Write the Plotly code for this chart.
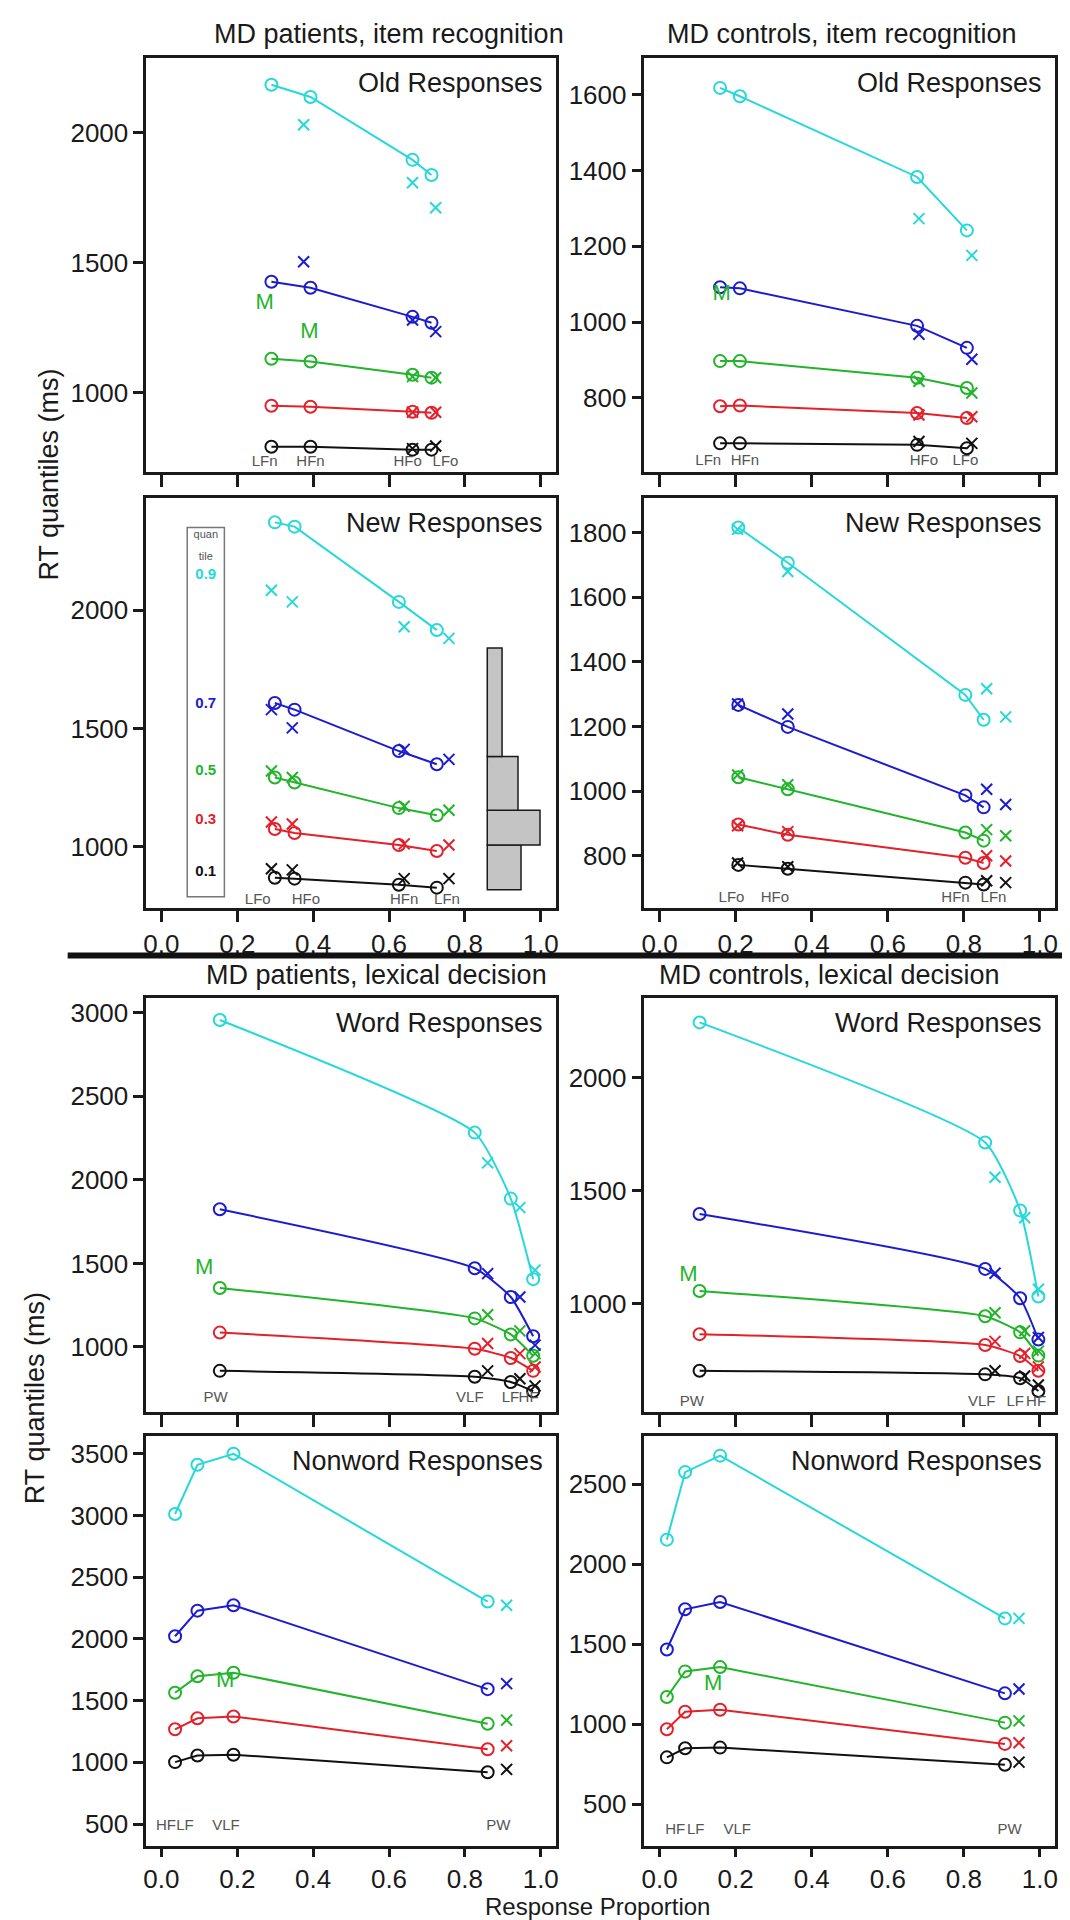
import plotly.graph_objects as go

W, H = 1070, 1920
FONT = "Liberation Sans, Arial, sans-serif"

# quantile colours, rows of every rt table are quantiles .1 .3 .5 .7 .9
COLORS = ["#111111", "#e3212b", "#22b42a", "#1c1ccf", "#27d8d8"]
QUANT = ["0.1", "0.3", "0.5", "0.7", "0.9"]

# ---------------- item recognition, MD patients ----------------
old_pat_px = [0.290, 0.393, 0.662, 0.712]
old_pat_rt = [[792, 792, 781, 781],
              [950, 946, 927, 923],
              [1131, 1120, 1069, 1058],
              [1427, 1404, 1292, 1269],
              [2185, 2138, 1896, 1838]]
old_pat_xx = [0.375, 0.662, 0.723]
old_pat_xrt = [[None, 785, 795],
               [None, 925, 925],
               [None, 1062, 1058],
               [1504, 1280, 1235],
               [2031, 1808, 1712]]
old_pat_m = ([0.272, 0.390], [1345, 1230])
old_pat_lab = ["LFn", "HFn", "HFo", "LFo"]
old_pat_labx = [0.272, 0.393, 0.649, 0.749]

new_pat_px = [0.299, 0.351, 0.626, 0.726]
new_pat_rt = [[870, 866, 840, 828],
              [1076, 1059, 1008, 983],
              [1293, 1272, 1164, 1134],
              [1608, 1580, 1405, 1349],
              [2371, 2353, 2035, 1916]]
new_pat_xx = [0.290, 0.345, 0.640, 0.758]
new_pat_xrt = [[908, 903, 866, 866],
               [1105, 1097, 1013, 1008],
               [1321, 1293, 1172, 1155],
               [1580, 1503, 1412, 1370],
               [2084, 2035, 1930, 1881]]
new_pat_lab = ["LFo", "HFo", "HFn", "LFn"]
new_pat_labx = [0.254, 0.381, 0.640, 0.753]

# RT histogram drawn in the patients' new-response panel
hist_lo = [819, 1008, 1155, 1382]
hist_hi = [1008, 1155, 1382, 1840]
hist_len = [0.089, 0.139, 0.081, 0.039]

# ---------------- item recognition, MD controls ----------------
old_con_px = [0.159, 0.211, 0.677, 0.808]
old_con_rt = [[680, 680, 676, 667],
              [778, 780, 760, 747],
              [897, 897, 853, 826],
              [1092, 1089, 990, 932],
              [1618, 1596, 1383, 1242]]
old_con_xx = [0.682, 0.821]
old_con_xrt = [[685, 680],
               [755, 750],
               [844, 813],
               [968, 902],
               [1273, 1176]]
old_con_m = ([0.163], [1072])
old_con_lab = ["LFn", "HFn", "HFo", "LFo"]
old_con_labx = [0.128, 0.224, 0.695, 0.804]

new_con_px = [0.207, 0.337, 0.804, 0.852]
new_con_rt = [[772, 760, 717, 711],
              [897, 865, 794, 778],
              [1043, 1006, 872, 847],
              [1267, 1199, 987, 950],
              [1816, 1707, 1298, 1221]]
new_con_xx = [0.205, 0.337, 0.860, 0.910]
new_con_xrt = [[778, 766, 723, 717],
               [893, 875, 800, 784],
               [1050, 1020, 881, 862],
               [1270, 1239, 1006, 959],
               [1810, 1680, 1317, 1230]]
new_con_lab = ["LFo", "HFo", "HFn", "LFn"]
new_con_labx = [0.189, 0.303, 0.778, 0.878]

# ---------------- lexical decision, MD patients ----------------
word_pat_px = [0.154, 0.826, 0.921, 0.980]
word_pat_rt = [[857, 822, 790, 735],
               [1086, 989, 934, 857],
               [1353, 1171, 1075, 947],
               [1824, 1471, 1299, 1064],
               [2957, 2283, 1888, 1406]]
word_pat_xx = [0.860, 0.945, 0.985]
word_pat_xrt = [[857, 810, 767],
                [1021, 960, 880],
                [1193, 1096, 960],
                [1439, 1299, 1011],
                [2102, 1834, 1460]]
word_pat_m = ([0.113], [1471])
word_pat_lab = ["PW", "VLF", "LF", "HF"]
word_pat_labx = [0.143, 0.813, 0.920, 0.968]

non_pat_px = [0.036, 0.095, 0.190, 0.860]
non_pat_rt = [[1002, 1056, 1062, 920],
              [1268, 1357, 1372, 1106],
              [1564, 1697, 1726, 1313],
              [2022, 2229, 2273, 1593],
              [3012, 3411, 3500, 2303]]
non_pat_xx = [0.910]
non_pat_xrt = [[943], [1135], [1342], [1638], [2273]]
non_pat_m = ([0.168], [1653])
non_pat_lab = ["HF", "LF", "VLF", "PW"]
non_pat_labx = [0.012, 0.062, 0.170, 0.888]

# ---------------- lexical decision, MD controls ----------------
word_con_px = [0.105, 0.856, 0.948, 0.996]
word_con_rt = [[703, 687, 670, 613],
               [865, 817, 768, 703],
               [1056, 944, 873, 770],
               [1397, 1154, 1024, 841],
               [2246, 1714, 1413, 1032]]
word_con_xx = [0.882, 0.960, 0.996]
word_con_xrt = [[703, 680, 640],
                [833, 780, 720],
                [960, 880, 790],
                [1135, None, 850],
                [1560, 1381, 1064]]
word_con_m = ([0.076], [1127])
word_con_lab = ["PW", "VLF", "LF", "HF"]
word_con_labx = [0.085, 0.847, 0.935, 0.990]

non_con_px = [0.019, 0.067, 0.159, 0.908]
non_con_rt = [[793, 850, 854, 747],
              [969, 1078, 1090, 877],
              [1170, 1330, 1357, 1010],
              [1467, 1718, 1764, 1193],
              [2153, 2575, 2678, 1661]]
non_con_xx = [0.945]
non_con_xrt = [[763], [884], [1021], [1220], [1661]]
non_con_m = ([0.141], [1250])
non_con_lab = ["HF", "LF", "VLF", "PW"]
non_con_labx = [0.041, 0.095, 0.204, 0.920]

# ---------------- layout helpers ----------------
COLS = [(136, 548), (637, 1050)]
ROWS = [(49, 463), (489, 899), (990, 1404), (1428, 1838)]
TXT = 27

fig = go.Figure()


def xd(a, b):
    return [a / W, b / W]


def yd(a, b):
    return [1 - b / H, 1 - a / H]


def add_panel(n, col, row, yrange, ytick, px, rt, xx, xrt, m, lab, labx, laby,
              name, spline=False):
    xa = "x" if n == 1 else f"x{n}"
    ya = "y" if n == 1 else f"y{n}"
    for q in range(5):
        fig.add_trace(go.Scatter(
            x=px, y=rt[q], xaxis=xa, yaxis=ya, mode="lines+markers",
            line=dict(color=COLORS[q], width=2,
                      shape="spline" if spline else "linear", smoothing=0.5),
            marker=dict(symbol="circle-open", size=12, color=COLORS[q],
                        line=dict(width=2, color=COLORS[q])),
            showlegend=False, hoverinfo="skip"))
        fig.add_trace(go.Scatter(
            x=xx, y=xrt[q], xaxis=xa, yaxis=ya, mode="markers",
            marker=dict(symbol="x-thin-open", size=11, color=COLORS[q],
                        line=dict(width=2, color=COLORS[q])),
            showlegend=False, hoverinfo="skip"))
    if m is not None:
        fig.add_trace(go.Scatter(
            x=m[0], y=m[1], xaxis=xa, yaxis=ya, mode="text", text=["M"] * len(m[0]),
            textfont=dict(family=FONT, size=22, color=COLORS[2]),
            showlegend=False, hoverinfo="skip"))
    fig.add_trace(go.Scatter(
        x=labx, y=[laby] * len(labx), xaxis=xa, yaxis=ya, mode="text", text=lab,
        textfont=dict(family=FONT, size=15, color="#555555"),
        showlegend=False, hoverinfo="skip"))

    c0, c1 = COLS[col]
    r0, r1 = ROWS[row]
    axis_common = dict(showline=True, mirror=True, linecolor="#1a1a1a", linewidth=2.5,
                       ticks="outside", tickwidth=2.5, tickcolor="#1a1a1a",
                       showgrid=False, zeroline=False,
                       tickfont=dict(family=FONT, size=26, color="#1a1a1a"))
    fig.update_layout(**{
        ("xaxis" if n == 1 else f"xaxis{n}"): dict(
            axis_common, domain=xd(c0, c1), range=[-0.04, 1.04], anchor=ya,
            tickvals=[0, 0.2, 0.4, 0.6, 0.8, 1.0], tickformat=".1f",
            ticklen=8 if row == 3 else 12, showticklabels=row in (1, 3)),
        ("yaxis" if n == 1 else f"yaxis{n}"): dict(
            axis_common, domain=yd(r0, r1), range=yrange, anchor=xa,
            tickvals=ytick, ticklen=10),
    })
    fig.add_annotation(text=name, xref=f"{xa} domain", yref=f"{ya} domain",
                       x=1, y=1, xanchor="right", yanchor="top", xshift=-11, yshift=-8,
                       showarrow=False, font=dict(family=FONT, size=TXT, color="#1a1a1a"))


add_panel(1, 0, 0, [696, 2288], [1000, 1500, 2000], old_pat_px, old_pat_rt,
          old_pat_xx, old_pat_xrt, old_pat_m, old_pat_lab, old_pat_labx, 731, "Old Responses")
add_panel(2, 1, 0, [605, 1697], [800, 1000, 1200, 1400, 1600], old_con_px, old_con_rt,
          old_con_xx, old_con_xrt, old_con_m, old_con_lab, old_con_labx, 632, "Old Responses")
add_panel(3, 0, 1, [744, 2475], [1000, 1500, 2000], new_pat_px, new_pat_rt,
          new_pat_xx, new_pat_xrt, None, new_pat_lab, new_pat_labx, 773, "New Responses")
add_panel(4, 1, 1, [640, 1908], [800, 1000, 1200, 1400, 1600, 1800], new_con_px, new_con_rt,
          new_con_xx, new_con_xrt, None, new_con_lab, new_con_labx, 668, "New Responses")
add_panel(5, 0, 2, [609, 3086], [1000, 1500, 2000, 2500, 3000], word_pat_px, word_pat_rt,
          word_pat_xx, word_pat_xrt, word_pat_m, word_pat_lab, word_pat_labx, 690,
          "Word Responses", spline=True)
add_panel(6, 1, 2, [519, 2352], [1000, 1500, 2000], word_con_px, word_con_rt,
          word_con_xx, word_con_xrt, word_con_m, word_con_lab, word_con_labx, 563,
          "Word Responses", spline=True)
add_panel(7, 0, 3, [322, 3642], [500, 1000, 1500, 2000, 2500, 3000, 3500], non_pat_px,
          non_pat_rt, non_pat_xx, non_pat_xrt, non_pat_m, non_pat_lab, non_pat_labx, 485,
          "Nonword Responses")
add_panel(8, 1, 3, [239, 2799], [500, 1000, 1500, 2000, 2500], non_con_px, non_con_rt,
          non_con_xx, non_con_xrt, non_con_m, non_con_lab, non_con_labx, 335,
          "Nonword Responses")

# histogram of RTs (horizontal bars) in panel 3
fig.add_trace(go.Bar(
    orientation="h", base=0.859, x=hist_len,
    y=[(a + b) / 2 for a, b in zip(hist_lo, hist_hi)],
    width=[b - a for a, b in zip(hist_lo, hist_hi)],
    xaxis="x3", yaxis="y3", marker=dict(color="#c4c4c4", line=dict(color="#1a1a1a", width=1.5)),
    showlegend=False, hoverinfo="skip"))

# quantile key in panel 3
fig.add_shape(type="rect", xref="x3", yref="y3", x0=0.068, x1=0.166, y0=790, y1=2349,
              line=dict(color="#777777", width=1.5))
fig.add_trace(go.Scatter(
    x=[0.117, 0.117], y=[2315, 2223], xaxis="x3", yaxis="y3", mode="text",
    text=["quan", "tile"], textfont=dict(family=FONT, size=11, color="#555555"),
    showlegend=False, hoverinfo="skip"))
fig.add_trace(go.Scatter(
    x=[0.117] * 5, y=[895, 1113, 1319, 1601, 2147], xaxis="x3", yaxis="y3",
    mode="text", text=[f"<b>{q}</b>" for q in QUANT],
    textfont=dict(family=FONT, size=15, color=COLORS),
    showlegend=False, hoverinfo="skip"))

# titles and shared axis labels
for txt, x, y in [("MD patients, item recognition", 380, 25),
                  ("MD controls, item recognition", 836, 25),
                  ("MD patients, lexical decision", 368, 967),
                  ("MD controls, lexical decision", 823, 967)]:
    fig.add_annotation(text=txt, xref="paper", yref="paper", x=x / W, y=1 - y / H,
                       xanchor="center", yanchor="middle", showarrow=False,
                       font=dict(family=FONT, size=TXT, color="#1a1a1a"))
for x, y in [(38, 466), (24, 1390)]:
    fig.add_annotation(text="RT quantiles (ms)", xref="paper", yref="paper",
                       x=x / W, y=1 - y / H, textangle=-90, showarrow=False,
                       xanchor="center", yanchor="middle",
                       font=dict(family=FONT, size=TXT, color="#1a1a1a"))
fig.add_annotation(text="Response Proportion", xref="paper", yref="paper",
                   x=590 / W, y=1 - 1913 / H, showarrow=False, xanchor="center",
                   yanchor="bottom", borderpad=0,
                   font=dict(family=FONT, size=24, color="#1a1a1a"))

fig.add_shape(type="line", xref="paper", yref="paper", x0=57 / W, x1=1065 / W,
              y0=1 - 947 / H, y1=1 - 947 / H, line=dict(color="#111111", width=6))

fig.update_layout(width=W, height=H, margin=dict(l=0, r=0, t=0, b=0),
                  paper_bgcolor="white", plot_bgcolor="white", showlegend=False)

fig.write_html("out.html")
